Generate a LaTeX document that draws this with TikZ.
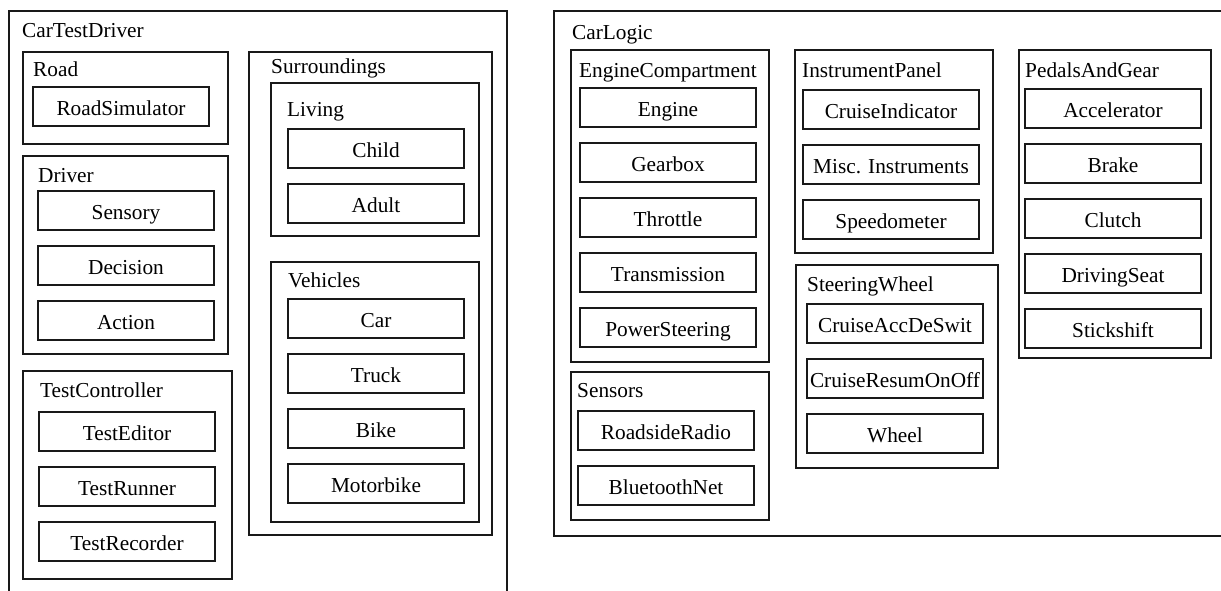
\documentclass[tikz,border=0pt]{standalone}
\usepackage{fontspec}
\setmainfont{Liberation Serif}
\usetikzlibrary{positioning}

\begin{document}
\begin{tikzpicture}[
    x=1pt, y=-1pt,
    font=\fontsize{21.3}{25}\selectfont,
    group/.style={
        draw=black!90, line width=2.3pt,
        anchor=north west, inner sep=0pt, outer sep=0pt
    },
    title/.style={anchor=base west, inner sep=0pt},
    part/.style={
        draw=black!90, line width=2.3pt,
        inner sep=0pt, outer sep=0pt,
        text height=17pt, text depth=0pt,
        minimum width=176pt, minimum height=39pt
    },
    node distance=16pt
]
\useasboundingbox (0,0) rectangle (1221,590);

% CarTestDriver
\node[group, minimum width=498pt, minimum height=620pt] (cartestdriver) at (9,11) {};
\node[title] (cartestdriverT) at (22,37) {CarTestDriver};

% Road
\node[group, minimum width=205pt, minimum height=92pt] (road) at (23,52) {};
\node[title] (roadT) at (33,76) {Road};
\node[part, anchor=north west] (roadsim) at (33,87) {RoadSimulator};

% Driver
\node[group, minimum width=205pt, minimum height=198pt] (driver) at (23,156) {};
\node[title] (driverT) at (38,182) {Driver};
\node[part, anchor=north west] (sensory) at (38,191) {Sensory};
\node[part, below=of sensory] (decision) {Decision};
\node[part, below=of decision] (action) {Action};

% TestController
\node[group, minimum width=209pt, minimum height=208pt] (testctrl) at (23,371) {};
\node[title] (testctrlT) at (40,397) {TestController};
\node[part, anchor=north west] (testeditor) at (39,412) {TestEditor};
\node[part, below=of testeditor] (testrunner) {TestRunner};
\node[part, below=of testrunner] (testrecorder) {TestRecorder};

% Surroundings
\node[group, minimum width=243pt, minimum height=483pt] (surroundings) at (249,52) {};
\node[title] (surroundingsT) at (271,73) {Surroundings};

\node[group, minimum width=208pt, minimum height=153pt] (living) at (271,83) {};
\node[title] (livingT) at (287,116) {Living};
\node[part, anchor=north west] (child) at (288,129) {Child};
\node[part, below=of child] (adult) {Adult};

\node[group, minimum width=208pt, minimum height=260pt] (vehicles) at (271,262) {};
\node[title] (vehiclesT) at (288,287) {Vehicles};
\node[part, anchor=north west] (car) at (288,299) {Car};
\node[part, below=of car] (truck) {Truck};
\node[part, below=of truck] (bike) {Bike};
\node[part, below=of bike] (motorbike) {Motorbike};

% CarLogic
\node[group, minimum width=700pt, minimum height=525pt] (carlogic) at (554,11) {};
\node[title] (carlogicT) at (572,39) {CarLogic};

% EngineCompartment
\node[group, minimum width=198pt, minimum height=312pt] (enginecomp) at (571,50) {};
\node[title] (enginecompT) at (579,77) {EngineCompartment};
\node[part, anchor=north west] (engine) at (580,88) {Engine};
\node[part, below=of engine] (gearbox) {Gearbox};
\node[part, below=of gearbox] (throttle) {Throttle};
\node[part, below=of throttle] (transmission) {Transmission};
\node[part, below=of transmission] (powersteering) {PowerSteering};

% Sensors
\node[group, minimum width=198pt, minimum height=148pt] (sensors) at (571,372) {};
\node[title] (sensorsT) at (577,397) {Sensors};
\node[part, anchor=north west] (roadsideradio) at (578,411) {RoadsideRadio};
\node[part, below=of roadsideradio] (bluetoothnet) {BluetoothNet};

% InstrumentPanel
\node[group, minimum width=198pt, minimum height=203pt] (instrpanel) at (795,50) {};
\node[title] (instrpanelT) at (802,77) {InstrumentPanel};
\node[part, anchor=north west] (cruiseind) at (803,90) {CruiseIndicator};
\node[part, below=of cruiseind] (misc) {Misc. Instruments};
\node[part, below=of misc] (speedometer) {Speedometer};

% SteeringWheel
\node[group, minimum width=202pt, minimum height=203pt] (steering) at (796,265) {};
\node[title] (steeringT) at (807,291) {SteeringWheel};
\node[part, anchor=north west] (cruiseacc) at (807,304) {CruiseAccDeSwit};
\node[part, below=of cruiseacc] (cruiseresum) {CruiseResumOnOff};
\node[part, below=of cruiseresum] (wheel) {Wheel};

% PedalsAndGear
\node[group, minimum width=192pt, minimum height=308pt] (pedals) at (1019,50) {};
\node[title] (pedalsT) at (1025,77) {PedalsAndGear};
\node[part, anchor=north west] (accelerator) at (1025,89) {Accelerator};
\node[part, below=of accelerator] (brake) {Brake};
\node[part, below=of brake] (clutch) {Clutch};
\node[part, below=of clutch] (drivingseat) {DrivingSeat};
\node[part, below=of drivingseat] (stickshift) {Stickshift};

\end{tikzpicture}
\end{document}
